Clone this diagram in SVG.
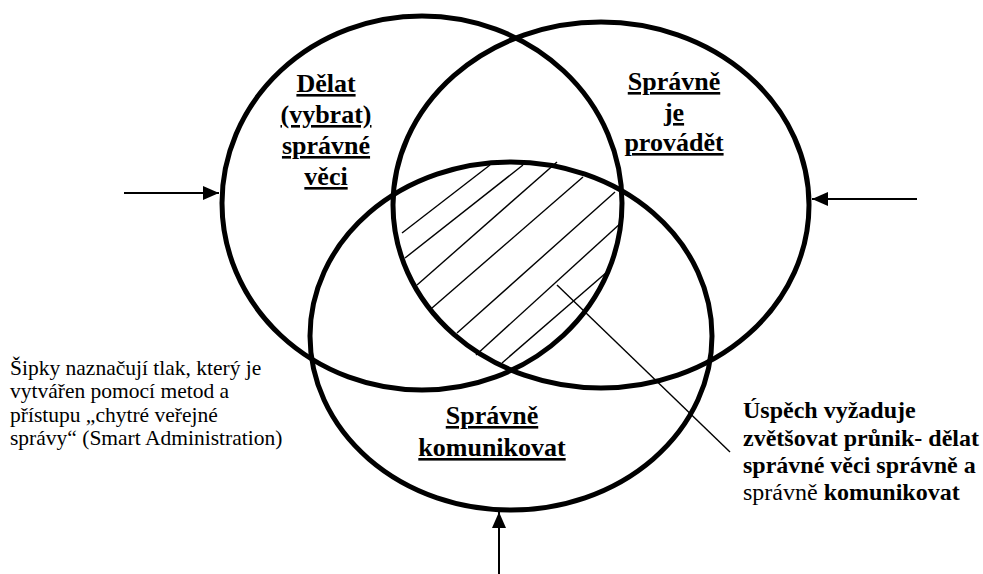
<svg xmlns="http://www.w3.org/2000/svg" width="983" height="574" viewBox="0 0 983 574">
  <style>
    .ring { fill: none; stroke: #000; stroke-width: 5; }
    .hatch { stroke: #000; stroke-width: 1.4; fill: none; }
    .arrow { stroke: #000; stroke-width: 2; fill: none; marker-end: url(#ah); }
    .ptr { stroke: #000; stroke-width: 1.4; fill: none; }
    svg text, svg tspan { font-family: 'Liberation Serif', serif !important; }
  </style>
  <defs>
    <marker id="ah" viewBox="0 0 16 14" refX="16" refY="7" markerWidth="16" markerHeight="14" markerUnits="userSpaceOnUse" orient="auto">
      <polygon points="0,0 16,7 0,14" fill="#000"/>
    </marker>
  </defs>
  <rect width="983" height="574" fill="#fff"/>

  <g id="hatching">
    <line class="hatch" x1="490" y1="165" x2="402" y2="233"/>
    <line class="hatch" x1="523" y1="165" x2="405" y2="258"/>
    <line class="hatch" x1="557" y1="162" x2="417" y2="285"/>
    <line class="hatch" x1="583" y1="177" x2="432" y2="308"/>
    <line class="hatch" x1="615" y1="192" x2="457" y2="333"/>
    <line class="hatch" x1="622" y1="222" x2="476" y2="355"/>
    <line class="hatch" x1="607" y1="272" x2="502" y2="363"/>
  </g>

  <g id="circle-delat">
    <ellipse class="ring" cx="422" cy="203" rx="200" ry="187"/>
    <g font-family="Liberation Serif" font-size="26" font-weight="bold" text-anchor="middle" text-decoration="underline">
      <text x="326" y="92" font-family="Liberation Serif">Dělat</text>
      <text x="326" y="123" font-family="Liberation Serif">(vybrat)</text>
      <text x="326" y="154" font-family="Liberation Serif">správné</text>
      <text x="326" y="185" font-family="Liberation Serif">věci</text>
    </g>
  </g>

  <g id="circle-provadet">
    <ellipse class="ring" cx="601" cy="205" rx="208" ry="183"/>
    <g font-family="Liberation Serif" font-size="26" font-weight="bold" text-anchor="middle" text-decoration="underline">
      <text x="674" y="90" font-family="Liberation Serif">Správně</text>
      <text x="674" y="121" font-family="Liberation Serif">je</text>
      <text x="674" y="151" font-family="Liberation Serif">provádět</text>
    </g>
  </g>

  <g id="circle-komunikovat">
    <ellipse class="ring" cx="511" cy="336" rx="201" ry="174"/>
    <g font-family="Liberation Serif" font-size="26" font-weight="bold" text-anchor="middle" text-decoration="underline">
      <text x="492" y="424" font-family="Liberation Serif">Správně</text>
      <text x="492" y="456" font-family="Liberation Serif">komunikovat</text>
    </g>
  </g>

  <g id="note-left" font-family="Liberation Serif" font-size="21.5">
    <text x="10" y="375" font-family="Liberation Serif">Šipky naznačují tlak, který je</text>
    <text x="10" y="398" font-family="Liberation Serif">vytvářen pomocí metod a</text>
    <text x="10" y="422" font-family="Liberation Serif">přístupu „chytré veřejné</text>
    <text x="10" y="445" font-family="Liberation Serif">správy“ (Smart Administration)</text>
  </g>

  <g id="note-right" font-family="Liberation Serif" font-size="24" font-weight="bold">
    <text x="743" y="418" font-family="Liberation Serif">Úspěch vyžaduje</text>
    <text x="743" y="446" font-family="Liberation Serif">zvětšovat průnik- dělat</text>
    <text x="743" y="473" font-family="Liberation Serif">správné věci správně a</text>
    <text x="743" y="500" font-family="Liberation Serif"><tspan font-weight="normal">správně </tspan>komunikovat</text>
  </g>

  <g id="connectors">
    <line class="arrow" x1="124" y1="193" x2="219" y2="193"/>
    <line class="arrow" x1="917" y1="199" x2="812" y2="199"/>
    <line class="arrow" x1="499" y1="574" x2="499" y2="512"/>
    <line class="ptr" x1="557" y1="285" x2="730" y2="452"/>
  </g>
</svg>
